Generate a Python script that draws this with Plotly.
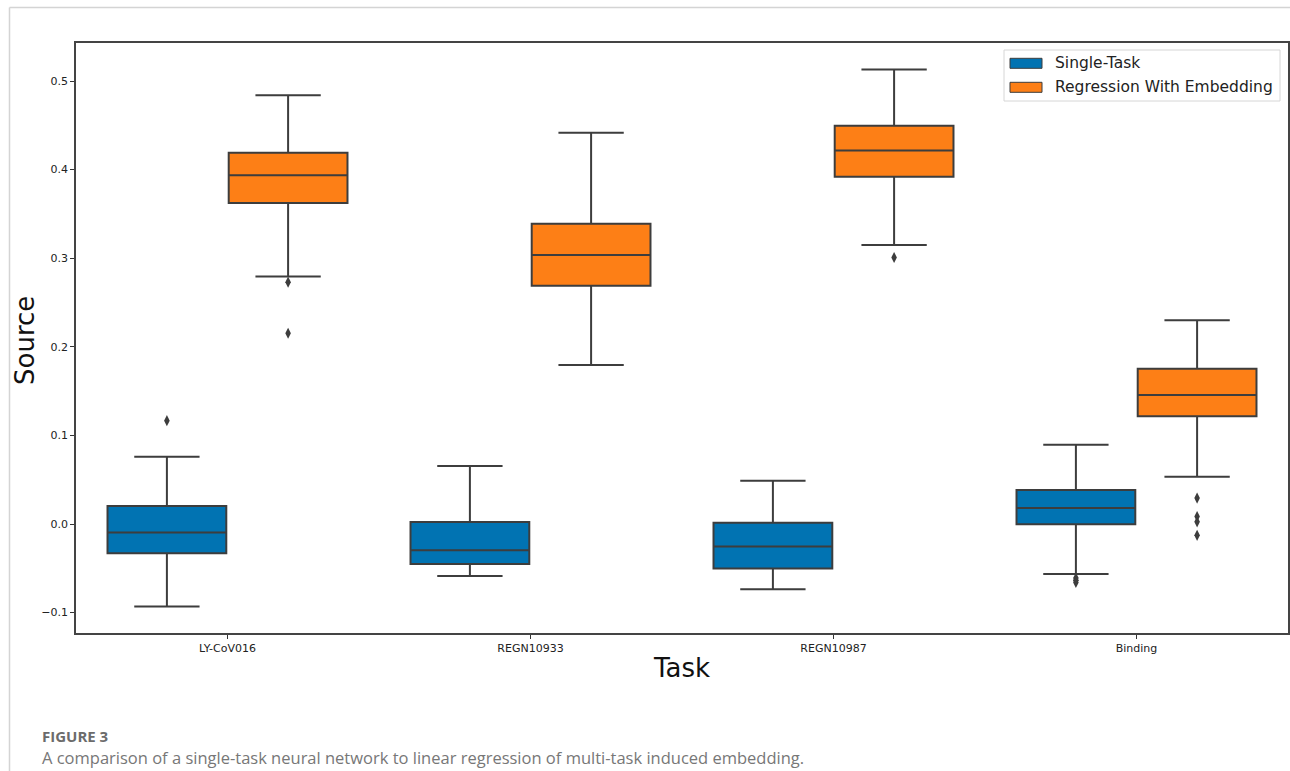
import plotly.graph_objects as go

# Task categories on the x axis
tasks = ["LY-CoV016", "REGN10933", "REGN10987", "Binding"]

# Box statistics per task: Single-Task network
single_lower = [-0.093, -0.0587, -0.0737, -0.0564]
single_q1 = [-0.033, -0.0451, -0.0503, -0.0004]
single_median = [-0.0096, -0.0297, -0.0253, 0.018]
single_q3 = [0.0202, 0.0023, 0.0013, 0.0384]
single_upper = [0.0758, 0.0655, 0.0489, 0.0895]
single_outliers = [[0.1166], [], [], [-0.061, -0.0635, -0.066]]

# Box statistics per task: regression on the multi-task embedding
embed_lower = [0.2795, 0.1795, 0.3149, 0.0534]
embed_q1 = [0.3624, 0.269, 0.3919, 0.1215]
embed_median = [0.3935, 0.3036, 0.4217, 0.1456]
embed_q3 = [0.419, 0.339, 0.4495, 0.1753]
embed_upper = [0.484, 0.4417, 0.5129, 0.2299]
embed_outliers = [[0.273, 0.2153], [], [0.3008], [0.0293, 0.0085, 0.0025, -0.0128]]

series_names = ["Single-Task", "Regression With Embedding"]
colors = ["#0173B2", "#FD7F16"]
edge = "#3d3d3d"
offsets = [-0.2, 0.2]

fig = go.Figure()

stats = [
    (single_lower, single_q1, single_median, single_q3, single_upper, single_outliers),
    (embed_lower, embed_q1, embed_median, embed_q3, embed_upper, embed_outliers),
]

for k, (lo, q1, med, q3, hi, outs) in enumerate(stats):
    pos = [i + offsets[k] for i in range(len(tasks))]
    fig.add_trace(go.Box(
        name=series_names[k],
        x=pos,
        q1=q1, median=med, q3=q3,
        lowerfence=lo, upperfence=hi,
        width=0.392,
        whiskerwidth=0.55,
        fillcolor=colors[k],
        line=dict(color=edge, width=2),
        boxpoints=False,
        hoverinfo="skip",
        showlegend=False,
    ))
    ox, oy = [], []
    for i, vals in enumerate(outs):
        for v in vals:
            ox.append(pos[i])
            oy.append(v)
    fig.add_trace(go.Scatter(
        x=ox, y=oy, mode="markers",
        marker=dict(symbol="diamond-tall", size=8, color=edge),
        showlegend=False, hoverinfo="skip",
    ))

W, H = 1290, 771
x0, x1 = 76, 1288
y0, y1 = 43, 633


def px(x):
    return x / W


def py(y):
    return 1 - y / H


# Legend frame, colour patches and labels
legend_shapes = [
    dict(type="rect", xref="paper", yref="paper",
         x0=px(1004), x1=px(1280), y0=py(101), y1=py(50),
         fillcolor="white", line=dict(color="#d6d6d6", width=1)),
]
legend_notes = []
for k, (name, col) in enumerate(zip(series_names, colors)):
    cy = 63.3 + 24 * k
    legend_shapes.append(dict(
        type="rect", xref="paper", yref="paper",
        x0=px(1010), x1=px(1042), y0=py(cy + 5), y1=py(cy - 5),
        fillcolor=col, line=dict(color=edge, width=1)))
    legend_notes.append(dict(
        text=name, xref="paper", yref="paper",
        x=px(1053), y=py(cy), xanchor="left", yanchor="middle",
        showarrow=False, font=dict(family="DejaVu Sans", size=15.5, color="#222")))

fig.update_layout(
    width=W, height=H,
    margin=dict(l=0, r=0, t=0, b=0),
    paper_bgcolor="white",
    plot_bgcolor="white",
    boxmode="overlay",
    showlegend=False,
    font=dict(family="DejaVu Sans", color="#222"),
    xaxis=dict(
        domain=[px(x0), px(x1)],
        range=[-0.5, 3.5],
        tickvals=list(range(len(tasks))),
        ticktext=tasks,
        ticks="outside", ticklen=4, tickcolor="#333", tickwidth=1,
        tickfont=dict(size=11, color="#222"),
        showgrid=False, zeroline=False,
        showline=True, linecolor="#444", linewidth=1.5, mirror=True,
        title=dict(text="Task", font=dict(size=26, color="#111"), standoff=5),
    ),
    yaxis=dict(
        domain=[py(y1), py(y0)],
        range=[-0.1230, 0.5429],
        tickvals=[-0.1, 0.0, 0.1, 0.2, 0.3, 0.4, 0.5],
        ticktext=["\u22120.1", "0.0", "0.1", "0.2", "0.3", "0.4", "0.5"],
        ticks="outside", ticklen=4, tickcolor="#333", tickwidth=1,
        tickfont=dict(size=11, color="#222"),
        showgrid=False, zeroline=False,
        showline=True, linecolor="#444", linewidth=1.5, mirror=True,
    ),
    shapes=[
        dict(type="line", xref="paper", yref="paper",
             x0=px(9.5), x1=1, y0=py(7.5), y1=py(7.5),
             line=dict(color="#d4d4d4", width=1.5)),
        dict(type="line", xref="paper", yref="paper",
             x0=px(9.5), x1=px(9.5), y0=0, y1=py(7.5),
             line=dict(color="#d4d4d4", width=1.5)),
    ] + legend_shapes,
    annotations=[
        dict(text="Source", xref="paper", yref="paper",
             x=px(25), y=py(341), xanchor="center", yanchor="middle",
             textangle=-90, showarrow=False,
             font=dict(family="DejaVu Sans", size=26, color="#111")),
        dict(text="<b>FIGURE 3</b>", xref="paper", yref="paper",
             x=px(40), y=py(736), xanchor="left", yanchor="middle",
             showarrow=False, font=dict(family="Open Sans", size=15, color="#6b6b6b")),
        dict(text="A comparison of a single-task neural network to linear regression of multi-task induced embedding.",
             xref="paper", yref="paper",
             x=px(40), y=py(757), xanchor="left", yanchor="middle",
             showarrow=False, font=dict(family="Open Sans", size=16.5, color="#777777")),
    ] + legend_notes,
)

fig.write_html("out.html")
